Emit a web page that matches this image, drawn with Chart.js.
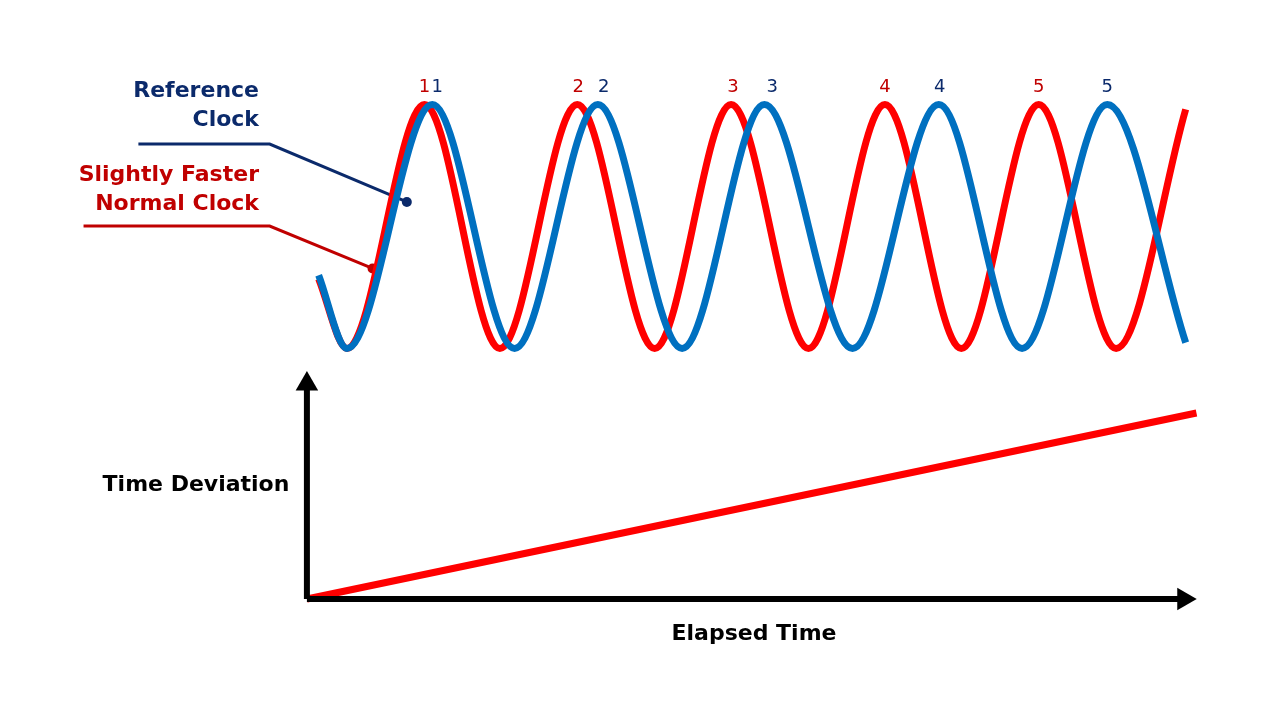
<!DOCTYPE html>
<html><head><meta charset="utf-8">
<script src="https://cdn.jsdelivr.net/npm/chart.js@4"></script>
<style>html,body{margin:0;padding:0;background:#fff}canvas{display:block}</style>
</head><body><canvas id="c" width="1280" height="720"></canvas>
<script>
// Reference clock (blue) extrema: [x, y] in diagram units
const refClock = [[312,272],[341,348],[428,95],[512,348],[597,95],[683,348],[767,95],[857,348],[945,95],[1030,348],[1117,95],[1197,342]];
// Slightly faster clock (red)
const fastClock = [[312,276],[341,348],[420,95],[497,348],[576,95],[655,348],[733,95],[812,348],[890,95],[968,348],[1047,95],[1126,348],[1197,100]];
const cycleLabels = ['1','2','3','4','5'];
const refPeakX = [431,603,775,946,1117];
const fastPeakX = [420,577,735,890,1047];
// Time deviation line
const deviation = [[300,608],[1208,415]];
// Axes
const yAxisLine = [[300,608],[300,385]];
const xAxisLine = [[300,608],[1195,608]];
// Leader lines
const refLeader = [[128,136],[262,136],[402,196]];
const fastLeader = [[72,221],[262,221],[367,265]];

const pts = a => a.map(([x,y]) => ({x,y}));
const BLUE='#0070c0', RED='#ff0000', NAVY='#0b2a6b', DRED='#c00000';

const textPlugin = {id:'txt', afterDatasetsDraw(ch){
  const c=ch.ctx, xs=ch.scales.x, ys=ch.scales.y;
  c.save();
  c.textBaseline='middle';
  c.font='18px "DejaVu Sans", Verdana, sans-serif'; c.textAlign='center';
  cycleLabels.forEach((l,i)=>{
    c.fillStyle=DRED; c.fillText(l, xs.getPixelForValue(fastPeakX[i]), ys.getPixelForValue(77));
    c.fillStyle=NAVY; c.fillText(l, xs.getPixelForValue(refPeakX[i]+ (i===0?2:0)), ys.getPixelForValue(77));
  });
  c.font='bold 22px "DejaVu Sans", Verdana, sans-serif';
  c.textAlign='right';
  c.fillStyle=NAVY; c.fillText('Reference', 259, 91); c.fillText('Clock', 259, 120);
  c.fillStyle=DRED; c.fillText('Slightly Faster', 259, 175); c.fillText('Normal Clock', 259, 204);
  c.textAlign='center'; c.fillStyle='#000';
  c.fillText('Time Deviation', 196, 485);
  c.fillText('Elapsed Time', 754, 634);
  c.restore();
}};

new Chart(document.getElementById('c'), {
  type:'line',
  data:{datasets:[
    {data:pts(yAxisLine), borderColor:'#000', borderWidth:6, pointRadius:[0,13], pointStyle:'triangle', pointBackgroundColor:'#000', pointBorderWidth:0},
    {data:pts(xAxisLine), borderColor:'#000', borderWidth:6, pointRadius:[0,13], pointStyle:'triangle', pointRotation:90, pointBackgroundColor:'#000', pointBorderWidth:0},
    {data:pts(deviation), borderColor:RED, borderWidth:7, pointRadius:0},
    {data:pts(refClock), borderColor:BLUE, borderWidth:7, pointRadius:0, cubicInterpolationMode:'monotone'},
    {data:pts(fastClock), borderColor:RED, borderWidth:7, pointRadius:0, cubicInterpolationMode:'monotone'},
    {data:pts(refLeader), borderColor:NAVY, borderWidth:3, pointRadius:[0,0,5], pointBackgroundColor:NAVY, pointBorderWidth:0},
    {data:pts(fastLeader), borderColor:DRED, borderWidth:3, pointRadius:[0,0,5], pointBackgroundColor:DRED, pointBorderWidth:0}
  ]},
  options:{responsive:false, animation:false, devicePixelRatio:1,
    layout:{padding:0},
    plugins:{legend:{display:false}, tooltip:{enabled:false}},
    scales:{x:{type:'linear',min:0,max:1280,display:false},
            y:{type:'linear',min:0,max:720,reverse:true,display:false}}},
  plugins:[textPlugin]
});
</script></body></html>
